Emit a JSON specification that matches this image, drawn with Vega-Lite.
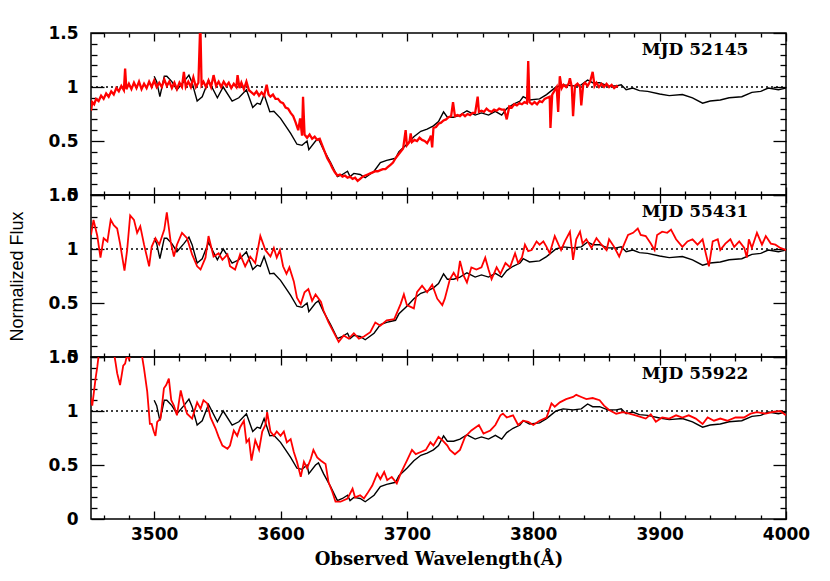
{
"$schema":"https://vega.github.io/schema/vega-lite/v6.json",
"background":"white",
"padding":{"left":8,"top":23,"right":5,"bottom":5},
"spacing":0,
"bounds":"flush",
"config":{"view":{"stroke":"black","strokeWidth":1.5},"axis":{"grid":false,"domain":false,"tickColor":"black","tickWidth":1.3,"labelFont":"DejaVu Sans","labelFontWeight":"bold","labelFontSize":17,"labelColor":"black","titleColor":"black"}},
"datasets":{
"template":[
{"w":3500,"f":1.10},{"w":3502,"f":1.05},{"w":3504.5,"f":0.91},{"w":3508,"f":1.10},{"w":3510,"f":1.10},{"w":3514,"f":1.05},{"w":3518,"f":0.975},{"w":3523.5,"f":1.05},{"w":3527.5,"f":1.11},{"w":3530,"f":1.04},{"w":3534,"f":0.87},{"w":3538,"f":0.91},{"w":3543,"f":1.06},{"w":3550,"f":0.90},{"w":3554.6,"f":1.0},{"w":3561.7,"f":0.87},{"w":3567,"f":0.90},{"w":3573,"f":0.975},{"w":3578,"f":0.81},{"w":3581.5,"f":0.85},{"w":3584,"f":0.84},{"w":3587,"f":0.93},{"w":3591.5,"f":0.77},{"w":3594.7,"f":0.775},{"w":3600,"f":0.71},{"w":3604,"f":0.64},{"w":3608,"f":0.57},{"w":3613,"f":0.47},{"w":3617,"f":0.46},{"w":3621,"f":0.50},{"w":3622.4,"f":0.42},{"w":3627.7,"f":0.50},{"w":3630,"f":0.52},{"w":3634,"f":0.42},{"w":3639.6,"f":0.30},{"w":3645,"f":0.17},{"w":3649,"f":0.19},{"w":3653,"f":0.22},{"w":3655,"f":0.17},{"w":3658,"f":0.20},{"w":3663,"f":0.19},{"w":3667,"f":0.16},{"w":3674,"f":0.22},{"w":3679,"f":0.30},{"w":3684,"f":0.32},{"w":3691,"f":0.34},{"w":3693.7,"f":0.40},{"w":3700,"f":0.47},{"w":3705.5,"f":0.54},{"w":3711,"f":0.59},{"w":3716,"f":0.61},{"w":3721,"f":0.64},{"w":3725,"f":0.68},{"w":3729,"f":0.77},{"w":3732,"f":0.72},{"w":3737,"f":0.72},{"w":3742,"f":0.74},{"w":3747.5,"f":0.78},{"w":3754,"f":0.74},{"w":3759,"f":0.76},{"w":3764.6,"f":0.74},{"w":3770,"f":0.775},{"w":3775,"f":0.74},{"w":3779,"f":0.80},{"w":3784,"f":0.84},{"w":3789.5,"f":0.87},{"w":3792,"f":0.91},{"w":3797,"f":0.88},{"w":3805,"f":0.89},{"w":3810.5,"f":0.93},{"w":3818,"f":1.0},{"w":3823.6,"f":1.02},{"w":3831.5,"f":1.01},{"w":3838,"f":1.02},{"w":3843,"f":1.065},{"w":3847,"f":1.04},{"w":3852.5,"f":1.04},{"w":3859,"f":1.01},{"w":3865.6,"f":1.01},{"w":3869.6,"f":1.02},{"w":3873.5,"f":0.975},{"w":3878.7,"f":0.99},{"w":3884,"f":0.966},{"w":3890.5,"f":0.96},{"w":3900,"f":0.935},{"w":3907.6,"f":0.92},{"w":3918,"f":0.93},{"w":3926,"f":0.90},{"w":3934,"f":0.85},{"w":3940,"f":0.87},{"w":3948,"f":0.88},{"w":3955,"f":0.90},{"w":3965,"f":0.91},{"w":3973,"f":0.95},{"w":3980,"f":0.96},{"w":3986,"f":0.99},{"w":3994,"f":0.975},{"w":4000,"f":0.99}
],
"obs":[
{"mjd":52145,"w":3450,"f":0.78},{"mjd":52145,"w":3451,"f":0.86},{"mjd":52145,"w":3452.5,"f":0.84},{"mjd":52145,"w":3454,"f":0.89},{"mjd":52145,"w":3456,"f":0.87},{"mjd":52145,"w":3458,"f":0.92},{"mjd":52145,"w":3460,"f":0.89},{"mjd":52145,"w":3462,"f":0.94},{"mjd":52145,"w":3464,"f":0.91},{"mjd":52145,"w":3466,"f":0.96},{"mjd":52145,"w":3468,"f":0.93},{"mjd":52145,"w":3470,"f":0.99},{"mjd":52145,"w":3472,"f":0.96},{"mjd":52145,"w":3474,"f":1.01},{"mjd":52145,"w":3476,"f":0.97},{"mjd":52145,"w":3477,"f":1.17},{"mjd":52145,"w":3478,"f":0.98},{"mjd":52145,"w":3480,"f":1.03},{"mjd":52145,"w":3482,"f":0.98},{"mjd":52145,"w":3484,"f":1.04},{"mjd":52145,"w":3486,"f":0.99},{"mjd":52145,"w":3488,"f":1.05},{"mjd":52145,"w":3490,"f":0.98},{"mjd":52145,"w":3492,"f":1.03},{"mjd":52145,"w":3494,"f":0.99},{"mjd":52145,"w":3496,"f":1.05},{"mjd":52145,"w":3498,"f":1.0},{"mjd":52145,"w":3500,"f":1.06},{"mjd":52145,"w":3502,"f":1.0},{"mjd":52145,"w":3504,"f":1.04},{"mjd":52145,"w":3506,"f":1.0},{"mjd":52145,"w":3508,"f":1.07},{"mjd":52145,"w":3510,"f":1.01},{"mjd":52145,"w":3512,"f":1.05},{"mjd":52145,"w":3514,"f":0.99},{"mjd":52145,"w":3516,"f":1.04},{"mjd":52145,"w":3518,"f":0.98},{"mjd":52145,"w":3520,"f":1.04},{"mjd":52145,"w":3522,"f":1.0},{"mjd":52145,"w":3523.5,"f":1.14},{"mjd":52145,"w":3525,"f":1.0},{"mjd":52145,"w":3527,"f":1.05},{"mjd":52145,"w":3529,"f":1.0},{"mjd":52145,"w":3531,"f":1.09},{"mjd":52145,"w":3533,"f":1.0},{"mjd":52145,"w":3535,"f":1.04},{"mjd":52145,"w":3536.5,"f":1.6},{"mjd":52145,"w":3537.5,"f":1.02},{"mjd":52145,"w":3539,"f":1.05},{"mjd":52145,"w":3541,"f":1.0},{"mjd":52145,"w":3543,"f":1.06},{"mjd":52145,"w":3545,"f":1.0},{"mjd":52145,"w":3547,"f":1.11},{"mjd":52145,"w":3549,"f":1.01},{"mjd":52145,"w":3551,"f":1.05},{"mjd":52145,"w":3553,"f":1.0},{"mjd":52145,"w":3555,"f":1.05},{"mjd":52145,"w":3557,"f":1.01},{"mjd":52145,"w":3559,"f":1.04},{"mjd":52145,"w":3561,"f":0.99},{"mjd":52145,"w":3563,"f":1.03},{"mjd":52145,"w":3565,"f":1.0},{"mjd":52145,"w":3566,"f":1.11},{"mjd":52145,"w":3567.5,"f":0.99},{"mjd":52145,"w":3569,"f":1.04},{"mjd":52145,"w":3571,"f":0.98},{"mjd":52145,"w":3573,"f":1.05},{"mjd":52145,"w":3575,"f":0.97},{"mjd":52145,"w":3577,"f":0.95},{"mjd":52145,"w":3579,"f":0.93},{"mjd":52145,"w":3581,"f":0.96},{"mjd":52145,"w":3583,"f":0.92},{"mjd":52145,"w":3585,"f":0.95},{"mjd":52145,"w":3587,"f":0.92},{"mjd":52145,"w":3589,"f":1.02},{"mjd":52145,"w":3590.5,"f":0.93},{"mjd":52145,"w":3592,"f":0.91},{"mjd":52145,"w":3594,"f":0.93},{"mjd":52145,"w":3596,"f":0.89},{"mjd":52145,"w":3598,"f":0.89},{"mjd":52145,"w":3600,"f":0.86},{"mjd":52145,"w":3602,"f":0.85},{"mjd":52145,"w":3604,"f":0.81},{"mjd":52145,"w":3606,"f":0.80},{"mjd":52145,"w":3608,"f":0.76},{"mjd":52145,"w":3610,"f":0.73},{"mjd":52145,"w":3612,"f":0.67},{"mjd":52145,"w":3614,"f":0.60},{"mjd":52145,"w":3615.5,"f":0.71},{"mjd":52145,"w":3617,"f":0.55},{"mjd":52145,"w":3617.8,"f":0.91},{"mjd":52145,"w":3619,"f":0.56},{"mjd":52145,"w":3621,"f":0.53},{"mjd":52145,"w":3623,"f":0.56},{"mjd":52145,"w":3625,"f":0.52},{"mjd":52145,"w":3627,"f":0.54},{"mjd":52145,"w":3629,"f":0.51},{"mjd":52145,"w":3631,"f":0.52},{"mjd":52145,"w":3633,"f":0.46},{"mjd":52145,"w":3635,"f":0.40},{"mjd":52145,"w":3637,"f":0.34},{"mjd":52145,"w":3639,"f":0.30},{"mjd":52145,"w":3641,"f":0.25},{"mjd":52145,"w":3643,"f":0.21},{"mjd":52145,"w":3645,"f":0.18},{"mjd":52145,"w":3647,"f":0.19},{"mjd":52145,"w":3649,"f":0.17},{"mjd":52145,"w":3651,"f":0.18},{"mjd":52145,"w":3653,"f":0.16},{"mjd":52145,"w":3655,"f":0.17},{"mjd":52145,"w":3657,"f":0.15},{"mjd":52145,"w":3659,"f":0.16},{"mjd":52145,"w":3661,"f":0.13},{"mjd":52145,"w":3663,"f":0.15},{"mjd":52145,"w":3665,"f":0.17},{"mjd":52145,"w":3667,"f":0.18},{"mjd":52145,"w":3669,"f":0.19},{"mjd":52145,"w":3671,"f":0.20},{"mjd":52145,"w":3673,"f":0.21},{"mjd":52145,"w":3675,"f":0.22},{"mjd":52145,"w":3677,"f":0.22},{"mjd":52145,"w":3679,"f":0.23},{"mjd":52145,"w":3681,"f":0.24},{"mjd":52145,"w":3683,"f":0.24},{"mjd":52145,"w":3685,"f":0.26},{"mjd":52145,"w":3687,"f":0.28},{"mjd":52145,"w":3689,"f":0.30},{"mjd":52145,"w":3691,"f":0.34},{"mjd":52145,"w":3693,"f":0.37},{"mjd":52145,"w":3695,"f":0.40},{"mjd":52145,"w":3697,"f":0.43},{"mjd":52145,"w":3699,"f":0.60},{"mjd":52145,"w":3700,"f":0.46},{"mjd":52145,"w":3702,"f":0.49},{"mjd":52145,"w":3703,"f":0.57},{"mjd":52145,"w":3704,"f":0.49},{"mjd":52145,"w":3706,"f":0.51},{"mjd":52145,"w":3708,"f":0.50},{"mjd":52145,"w":3710,"f":0.53},{"mjd":52145,"w":3712,"f":0.51},{"mjd":52145,"w":3714,"f":0.50},{"mjd":52145,"w":3716,"f":0.48},{"mjd":52145,"w":3718,"f":0.52},{"mjd":52145,"w":3719,"f":0.55},{"mjd":52145,"w":3720,"f":0.44},{"mjd":52145,"w":3721,"f":0.62},{"mjd":52145,"w":3723,"f":0.63},{"mjd":52145,"w":3725,"f":0.66},{"mjd":52145,"w":3727,"f":0.67},{"mjd":52145,"w":3729,"f":0.69},{"mjd":52145,"w":3731,"f":0.70},{"mjd":52145,"w":3733,"f":0.72},{"mjd":52145,"w":3735,"f":0.73},{"mjd":52145,"w":3736.5,"f":0.86},{"mjd":52145,"w":3738,"f":0.73},{"mjd":52145,"w":3740,"f":0.74},{"mjd":52145,"w":3742,"f":0.73},{"mjd":52145,"w":3744,"f":0.75},{"mjd":52145,"w":3746,"f":0.73},{"mjd":52145,"w":3748,"f":0.75},{"mjd":52145,"w":3750,"f":0.74},{"mjd":52145,"w":3752,"f":0.76},{"mjd":52145,"w":3754,"f":0.76},{"mjd":52145,"w":3756,"f":0.91},{"mjd":52145,"w":3757,"f":0.77},{"mjd":52145,"w":3759,"f":0.78},{"mjd":52145,"w":3761,"f":0.77},{"mjd":52145,"w":3763,"f":0.80},{"mjd":52145,"w":3765,"f":0.78},{"mjd":52145,"w":3767,"f":0.77},{"mjd":52145,"w":3769,"f":0.79},{"mjd":52145,"w":3771,"f":0.78},{"mjd":52145,"w":3773,"f":0.80},{"mjd":52145,"w":3775,"f":0.79},{"mjd":52145,"w":3777,"f":0.79},{"mjd":52145,"w":3779,"f":0.70},{"mjd":52145,"w":3781,"f":0.82},{"mjd":52145,"w":3783,"f":0.81},{"mjd":52145,"w":3785,"f":0.84},{"mjd":52145,"w":3787,"f":0.83},{"mjd":52145,"w":3789,"f":0.85},{"mjd":52145,"w":3791,"f":0.84},{"mjd":52145,"w":3793,"f":0.86},{"mjd":52145,"w":3795,"f":0.85},{"mjd":52145,"w":3796,"f":1.24},{"mjd":52145,"w":3797,"f":0.86},{"mjd":52145,"w":3799,"f":0.84},{"mjd":52145,"w":3801,"f":0.86},{"mjd":52145,"w":3803,"f":0.84},{"mjd":52145,"w":3805,"f":0.87},{"mjd":52145,"w":3807,"f":0.86},{"mjd":52145,"w":3809,"f":0.89},{"mjd":52145,"w":3811,"f":0.90},{"mjd":52145,"w":3813,"f":0.91},{"mjd":52145,"w":3813.6,"f":0.62},{"mjd":52145,"w":3815,"f":0.93},{"mjd":52145,"w":3817,"f":0.97},{"mjd":52145,"w":3818.5,"f":1.0},{"mjd":52145,"w":3819.7,"f":0.77},{"mjd":52145,"w":3821,"f":1.10},{"mjd":52145,"w":3822.5,"f":0.99},{"mjd":52145,"w":3824,"f":1.02},{"mjd":52145,"w":3826,"f":1.0},{"mjd":52145,"w":3828,"f":1.03},{"mjd":52145,"w":3829,"f":1.08},{"mjd":52145,"w":3830.5,"f":1.0},{"mjd":52145,"w":3831.5,"f":0.73},{"mjd":52145,"w":3833,"f":1.01},{"mjd":52145,"w":3835,"f":1.03},{"mjd":52145,"w":3837,"f":1.0},{"mjd":52145,"w":3838,"f":0.83},{"mjd":52145,"w":3839.5,"f":1.02},{"mjd":52145,"w":3841,"f":1.04},{"mjd":52145,"w":3843,"f":1.01},{"mjd":52145,"w":3845,"f":1.05},{"mjd":52145,"w":3847,"f":1.14},{"mjd":52145,"w":3848.5,"f":1.01},{"mjd":52145,"w":3850,"f":1.04},{"mjd":52145,"w":3852,"f":1.0},{"mjd":52145,"w":3854,"f":1.03},{"mjd":52145,"w":3856,"f":1.0},{"mjd":52145,"w":3858,"f":1.03},{"mjd":52145,"w":3860,"f":1.0},{"mjd":52145,"w":3862,"f":1.02},{"mjd":52145,"w":3864,"f":0.99},{"mjd":52145,"w":3866,"f":1.01},{"mjd":52145,"w":3867,"f":1.0},
{"mjd":55431,"w":3450,"f":1.13},{"mjd":55431,"w":3452,"f":1.27},{"mjd":55431,"w":3455,"f":1.12},{"mjd":55431,"w":3457.5,"f":0.92},{"mjd":55431,"w":3460,"f":1.10},{"mjd":55431,"w":3463,"f":1.07},{"mjd":55431,"w":3465.6,"f":1.27},{"mjd":55431,"w":3468,"f":1.22},{"mjd":55431,"w":3470.7,"f":1.19},{"mjd":55431,"w":3473,"f":1.05},{"mjd":55431,"w":3476.5,"f":0.80},{"mjd":55431,"w":3478.6,"f":0.99},{"mjd":55431,"w":3481,"f":1.31},{"mjd":55431,"w":3484,"f":1.27},{"mjd":55431,"w":3486.5,"f":1.15},{"mjd":55431,"w":3489,"f":1.21},{"mjd":55431,"w":3492,"f":1.04},{"mjd":55431,"w":3496,"f":0.84},{"mjd":55431,"w":3498,"f":1.02},{"mjd":55431,"w":3501,"f":1.10},{"mjd":55431,"w":3504,"f":1.04},{"mjd":55431,"w":3508,"f":1.18},{"mjd":55431,"w":3510,"f":1.34},{"mjd":55431,"w":3513,"f":1.07},{"mjd":55431,"w":3515.6,"f":0.93},{"mjd":55431,"w":3518,"f":1.04},{"mjd":55431,"w":3522,"f":1.15},{"mjd":55431,"w":3526,"f":1.10},{"mjd":55431,"w":3530,"f":0.95},{"mjd":55431,"w":3534,"f":0.84},{"mjd":55431,"w":3536.7,"f":0.81},{"mjd":55431,"w":3540.6,"f":0.92},{"mjd":55431,"w":3543,"f":1.12},{"mjd":55431,"w":3547,"f":0.93},{"mjd":55431,"w":3551,"f":0.96},{"mjd":55431,"w":3554,"f":0.90},{"mjd":55431,"w":3558,"f":0.95},{"mjd":55431,"w":3560,"f":0.84},{"mjd":55431,"w":3564,"f":0.81},{"mjd":55431,"w":3568,"f":0.95},{"mjd":55431,"w":3572,"f":0.84},{"mjd":55431,"w":3576,"f":0.93},{"mjd":55431,"w":3580,"f":0.87},{"mjd":55431,"w":3584,"f":1.12},{"mjd":55431,"w":3588,"f":0.99},{"mjd":55431,"w":3592,"f":0.93},{"mjd":55431,"w":3594.7,"f":1.01},{"mjd":55431,"w":3597,"f":0.92},{"mjd":55431,"w":3599.5,"f":0.99},{"mjd":55431,"w":3602,"f":0.84},{"mjd":55431,"w":3604.7,"f":0.77},{"mjd":55431,"w":3607,"f":0.83},{"mjd":55431,"w":3610.5,"f":0.70},{"mjd":55431,"w":3613,"f":0.55},{"mjd":55431,"w":3616,"f":0.49},{"mjd":55431,"w":3619,"f":0.60},{"mjd":55431,"w":3622,"f":0.63},{"mjd":55431,"w":3625,"f":0.52},{"mjd":55431,"w":3627.7,"f":0.58},{"mjd":55431,"w":3632,"f":0.51},{"mjd":55431,"w":3634,"f":0.43},{"mjd":55431,"w":3638,"f":0.32},{"mjd":55431,"w":3642,"f":0.23},{"mjd":55431,"w":3646,"f":0.14},{"mjd":55431,"w":3650,"f":0.20},{"mjd":55431,"w":3654,"f":0.17},{"mjd":55431,"w":3658,"f":0.22},{"mjd":55431,"w":3662,"f":0.17},{"mjd":55431,"w":3666,"f":0.19},{"mjd":55431,"w":3671,"f":0.23},{"mjd":55431,"w":3675,"f":0.32},{"mjd":55431,"w":3679,"f":0.29},{"mjd":55431,"w":3684,"f":0.34},{"mjd":55431,"w":3690,"f":0.35},{"mjd":55431,"w":3695,"f":0.49},{"mjd":55431,"w":3697.6,"f":0.58},{"mjd":55431,"w":3700,"f":0.48},{"mjd":55431,"w":3705.5,"f":0.45},{"mjd":55431,"w":3708,"f":0.60},{"mjd":55431,"w":3712,"f":0.66},{"mjd":55431,"w":3716,"f":0.60},{"mjd":55431,"w":3720,"f":0.67},{"mjd":55431,"w":3724,"f":0.54},{"mjd":55431,"w":3728,"f":0.48},{"mjd":55431,"w":3730,"f":0.54},{"mjd":55431,"w":3734,"f":0.72},{"mjd":55431,"w":3737,"f":0.78},{"mjd":55431,"w":3740,"f":0.72},{"mjd":55431,"w":3742,"f":0.89},{"mjd":55431,"w":3745,"f":0.75},{"mjd":55431,"w":3747.5,"f":0.69},{"mjd":55431,"w":3751,"f":0.83},{"mjd":55431,"w":3755,"f":0.81},{"mjd":55431,"w":3759,"f":0.83},{"mjd":55431,"w":3762,"f":0.92},{"mjd":55431,"w":3764.6,"f":0.81},{"mjd":55431,"w":3767,"f":0.72},{"mjd":55431,"w":3771,"f":0.83},{"mjd":55431,"w":3774,"f":0.77},{"mjd":55431,"w":3778,"f":0.87},{"mjd":55431,"w":3781.6,"f":0.83},{"mjd":55431,"w":3785.6,"f":0.96},{"mjd":55431,"w":3788,"f":0.87},{"mjd":55431,"w":3791,"f":0.92},{"mjd":55431,"w":3793.4,"f":1.04},{"mjd":55431,"w":3796,"f":0.98},{"mjd":55431,"w":3798.7,"f":0.99},{"mjd":55431,"w":3802.6,"f":1.07},{"mjd":55431,"w":3805,"f":1.04},{"mjd":55431,"w":3808,"f":1.07},{"mjd":55431,"w":3810.5,"f":1.02},{"mjd":55431,"w":3813,"f":0.96},{"mjd":55431,"w":3817,"f":1.12},{"mjd":55431,"w":3820,"f":1.04},{"mjd":55431,"w":3822,"f":0.99},{"mjd":55431,"w":3825,"f":1.07},{"mjd":55431,"w":3829,"f":1.16},{"mjd":55431,"w":3831.5,"f":0.90},{"mjd":55431,"w":3834,"f":1.09},{"mjd":55431,"w":3837,"f":1.16},{"mjd":55431,"w":3839,"f":1.05},{"mjd":55431,"w":3842,"f":1.09},{"mjd":55431,"w":3846,"f":1.01},{"mjd":55431,"w":3850,"f":1.10},{"mjd":55431,"w":3854,"f":1.04},{"mjd":55431,"w":3858,"f":0.99},{"mjd":55431,"w":3860,"f":1.09},{"mjd":55431,"w":3864,"f":1.02},{"mjd":55431,"w":3868,"f":0.93},{"mjd":55431,"w":3871,"f":1.02},{"mjd":55431,"w":3875,"f":1.13},{"mjd":55431,"w":3879,"f":1.15},{"mjd":55431,"w":3882.7,"f":1.19},{"mjd":55431,"w":3885,"f":1.13},{"mjd":55431,"w":3889,"f":1.12},{"mjd":55431,"w":3893,"f":1.05},{"mjd":55431,"w":3896,"f":0.99},{"mjd":55431,"w":3898,"f":1.13},{"mjd":55431,"w":3902,"f":1.16},{"mjd":55431,"w":3906,"f":1.15},{"mjd":55431,"w":3909,"f":1.18},{"mjd":55431,"w":3913,"f":1.09},{"mjd":55431,"w":3918,"f":1.02},{"mjd":55431,"w":3922,"f":1.07},{"mjd":55431,"w":3926,"f":1.09},{"mjd":55431,"w":3930,"f":1.04},{"mjd":55431,"w":3934,"f":1.09},{"mjd":55431,"w":3936.5,"f":0.96},{"mjd":55431,"w":3939,"f":0.84},{"mjd":55431,"w":3942,"f":1.07},{"mjd":55431,"w":3946,"f":1.09},{"mjd":55431,"w":3948,"f":0.99},{"mjd":55431,"w":3952,"f":1.05},{"mjd":55431,"w":3956,"f":1.09},{"mjd":55431,"w":3959,"f":1.02},{"mjd":55431,"w":3963,"f":1.07},{"mjd":55431,"w":3967,"f":1.01},{"mjd":55431,"w":3969,"f":0.92},{"mjd":55431,"w":3970.6,"f":1.09},{"mjd":55431,"w":3973,"f":1.01},{"mjd":55431,"w":3977,"f":1.15},{"mjd":55431,"w":3981,"f":1.04},{"mjd":55431,"w":3984,"f":1.12},{"mjd":55431,"w":3988,"f":1.05},{"mjd":55431,"w":3991.6,"f":1.04},{"mjd":55431,"w":3995.5,"f":1.01},{"mjd":55431,"w":4000,"f":0.99},
{"mjd":55922,"w":3449.6,"f":1.13},{"mjd":55922,"w":3451,"f":1.05},{"mjd":55922,"w":3453.6,"f":1.30},{"mjd":55922,"w":3455,"f":1.41},{"mjd":55922,"w":3456,"f":1.51},{"mjd":55922,"w":3458,"f":1.65},{"mjd":55922,"w":3462,"f":1.7},{"mjd":55922,"w":3466,"f":1.62},{"mjd":55922,"w":3468,"f":1.55},{"mjd":55922,"w":3469.4,"f":1.45},{"mjd":55922,"w":3470.7,"f":1.35},{"mjd":55922,"w":3473,"f":1.24},{"mjd":55922,"w":3475.5,"f":1.42},{"mjd":55922,"w":3477,"f":1.44},{"mjd":55922,"w":3478.6,"f":1.52},{"mjd":55922,"w":3480,"f":1.48},{"mjd":55922,"w":3481,"f":1.51},{"mjd":55922,"w":3484,"f":1.62},{"mjd":55922,"w":3487,"f":1.65},{"mjd":55922,"w":3490.5,"f":1.5},{"mjd":55922,"w":3492,"f":1.39},{"mjd":55922,"w":3494.5,"f":1.18},{"mjd":55922,"w":3496.6,"f":0.88},{"mjd":55922,"w":3498,"f":0.88},{"mjd":55922,"w":3499.7,"f":0.81},{"mjd":55922,"w":3501,"f":0.77},{"mjd":55922,"w":3502.4,"f":0.90},{"mjd":55922,"w":3505,"f":0.93},{"mjd":55922,"w":3507.7,"f":1.21},{"mjd":55922,"w":3509.5,"f":1.24},{"mjd":55922,"w":3511.6,"f":1.30},{"mjd":55922,"w":3513.5,"f":1.10},{"mjd":55922,"w":3515.6,"f":1.05},{"mjd":55922,"w":3518,"f":0.96},{"mjd":55922,"w":3521,"f":1.19},{"mjd":55922,"w":3523.5,"f":1.07},{"mjd":55922,"w":3526,"f":0.975},{"mjd":55922,"w":3530,"f":0.93},{"mjd":55922,"w":3534,"f":1.08},{"mjd":55922,"w":3536.7,"f":1.02},{"mjd":55922,"w":3539,"f":1.10},{"mjd":55922,"w":3542,"f":1.07},{"mjd":55922,"w":3544.6,"f":0.94},{"mjd":55922,"w":3548.5,"f":0.84},{"mjd":55922,"w":3551,"f":0.76},{"mjd":55922,"w":3554,"f":0.68},{"mjd":55922,"w":3558,"f":0.65},{"mjd":55922,"w":3560,"f":0.68},{"mjd":55922,"w":3563,"f":0.82},{"mjd":55922,"w":3565.7,"f":0.77},{"mjd":55922,"w":3568,"f":0.85},{"mjd":55922,"w":3571,"f":0.91},{"mjd":55922,"w":3573,"f":0.71},{"mjd":55922,"w":3575,"f":0.74},{"mjd":55922,"w":3577,"f":0.54},{"mjd":55922,"w":3580,"f":0.73},{"mjd":55922,"w":3583,"f":0.64},{"mjd":55922,"w":3585.5,"f":0.81},{"mjd":55922,"w":3588,"f":0.87},{"mjd":55922,"w":3589.4,"f":0.99},{"mjd":55922,"w":3592,"f":0.81},{"mjd":55922,"w":3594.7,"f":0.77},{"mjd":55922,"w":3597,"f":0.81},{"mjd":55922,"w":3600,"f":0.77},{"mjd":55922,"w":3602.6,"f":0.81},{"mjd":55922,"w":3605,"f":0.71},{"mjd":55922,"w":3608,"f":0.74},{"mjd":55922,"w":3610.5,"f":0.62},{"mjd":55922,"w":3613,"f":0.53},{"mjd":55922,"w":3616,"f":0.39},{"mjd":55922,"w":3618.5,"f":0.53},{"mjd":55922,"w":3621,"f":0.47},{"mjd":55922,"w":3624,"f":0.56},{"mjd":55922,"w":3626,"f":0.64},{"mjd":55922,"w":3629,"f":0.57},{"mjd":55922,"w":3632,"f":0.54},{"mjd":55922,"w":3635.6,"f":0.51},{"mjd":55922,"w":3638,"f":0.34},{"mjd":55922,"w":3641,"f":0.25},{"mjd":55922,"w":3643.5,"f":0.16},{"mjd":55922,"w":3647.5,"f":0.16},{"mjd":55922,"w":3653,"f":0.19},{"mjd":55922,"w":3657,"f":0.28},{"mjd":55922,"w":3659,"f":0.20},{"mjd":55922,"w":3663,"f":0.22},{"mjd":55922,"w":3666,"f":0.19},{"mjd":55922,"w":3668.6,"f":0.235},{"mjd":55922,"w":3672.6,"f":0.31},{"mjd":55922,"w":3676.5,"f":0.42},{"mjd":55922,"w":3679,"f":0.37},{"mjd":55922,"w":3682,"f":0.435},{"mjd":55922,"w":3684.4,"f":0.36},{"mjd":55922,"w":3688,"f":0.39},{"mjd":55922,"w":3692,"f":0.33},{"mjd":55922,"w":3695,"f":0.42},{"mjd":55922,"w":3700,"f":0.54},{"mjd":55922,"w":3704,"f":0.64},{"mjd":55922,"w":3707,"f":0.60},{"mjd":55922,"w":3711,"f":0.62},{"mjd":55922,"w":3715,"f":0.64},{"mjd":55922,"w":3718.6,"f":0.71},{"mjd":55922,"w":3721,"f":0.68},{"mjd":55922,"w":3725,"f":0.76},{"mjd":55922,"w":3728,"f":0.73},{"mjd":55922,"w":3732,"f":0.68},{"mjd":55922,"w":3734,"f":0.64},{"mjd":55922,"w":3738,"f":0.60},{"mjd":55922,"w":3742,"f":0.64},{"mjd":55922,"w":3746,"f":0.76},{"mjd":55922,"w":3751,"f":0.82},{"mjd":55922,"w":3757,"f":0.87},{"mjd":55922,"w":3760.6,"f":0.79},{"mjd":55922,"w":3766,"f":0.82},{"mjd":55922,"w":3770,"f":0.87},{"mjd":55922,"w":3774,"f":0.96},{"mjd":55922,"w":3776,"f":0.975},{"mjd":55922,"w":3779,"f":0.94},{"mjd":55922,"w":3784,"f":0.96},{"mjd":55922,"w":3788,"f":0.87},{"mjd":55922,"w":3792,"f":0.91},{"mjd":55922,"w":3796,"f":0.90},{"mjd":55922,"w":3800,"f":0.87},{"mjd":55922,"w":3805,"f":0.91},{"mjd":55922,"w":3810.5,"f":0.94},{"mjd":55922,"w":3814.4,"f":1.07},{"mjd":55922,"w":3817,"f":1.04},{"mjd":55922,"w":3821,"f":1.08},{"mjd":55922,"w":3826,"f":1.11},{"mjd":55922,"w":3831.5,"f":1.13},{"mjd":55922,"w":3834,"f":1.15},{"mjd":55922,"w":3838,"f":1.13},{"mjd":55922,"w":3842,"f":1.11},{"mjd":55922,"w":3847,"f":1.12},{"mjd":55922,"w":3852.5,"f":1.10},{"mjd":55922,"w":3856,"f":1.05},{"mjd":55922,"w":3860,"f":1.01},{"mjd":55922,"w":3865.6,"f":0.975},{"mjd":55922,"w":3871,"f":0.99},{"mjd":55922,"w":3876,"f":0.975},{"mjd":55922,"w":3881,"f":0.96},{"mjd":55922,"w":3889,"f":0.93},{"mjd":55922,"w":3893,"f":0.97},{"mjd":55922,"w":3897,"f":0.90},{"mjd":55922,"w":3902,"f":0.94},{"mjd":55922,"w":3907.6,"f":0.93},{"mjd":55922,"w":3913,"f":0.96},{"mjd":55922,"w":3918,"f":0.94},{"mjd":55922,"w":3923,"f":0.96},{"mjd":55922,"w":3928.6,"f":0.93},{"mjd":55922,"w":3934,"f":0.88},{"mjd":55922,"w":3938,"f":0.94},{"mjd":55922,"w":3943,"f":0.91},{"mjd":55922,"w":3948,"f":0.93},{"mjd":55922,"w":3953.5,"f":0.91},{"mjd":55922,"w":3960,"f":0.94},{"mjd":55922,"w":3966.7,"f":0.94},{"mjd":55922,"w":3972,"f":0.975},{"mjd":55922,"w":3977,"f":0.99},{"mjd":55922,"w":3984,"f":0.975},{"mjd":55922,"w":3989,"f":0.99},{"mjd":55922,"w":3995.5,"f":1.0},{"mjd":55922,"w":4000,"f":0.96}
],
"labels":[{"mjd":52145,"w":3928,"f":1.34,"label":"MJD 52145"},{"mjd":55431,"w":3928,"f":1.34,"label":"MJD 55431"},{"mjd":55922,"w":3928,"f":1.34,"label":"MJD 55922"}],
"ref":[{"w0":3450,"w1":4000,"f":1}]
},
"vconcat":[
{"width":695,"height":162,
"layer":[
{"data":{"name":"ref"},"mark":{"type":"rule","color":"black","strokeWidth":1.3,"strokeDash":[2,3]},
"encoding":{"x":{"field":"w0","type":"quantitative","scale":{"domain":[3450,4000],"nice":false},"axis":{"orient":"top","offset":-162,"values":[3460,3480,3520,3540,3560,3580,3620,3640,3660,3680,3720,3740,3760,3780,3820,3840,3860,3880,3920,3940,3960,3980],"tickSize":4,"labels":false,"title":null}},"x2":{"field":"w1"},
"y":{"field":"f","type":"quantitative","scale":{"domain":[0,1.5],"nice":false},"axis":{"orient":"right","offset":-695,"values":[0.1,0.2,0.3,0.4,0.6,0.7,0.8,0.9,1.1,1.2,1.3,1.4],"tickSize":6,"labels":false,"title":null}}}},
{"data":{"name":"template"},"mark":{"type":"line","color":"black","strokeWidth":1.4,"clip":true},
"encoding":{"x":{"field":"w","type":"quantitative","scale":{"domain":[3450,4000],"nice":false},"axis":{"orient":"bottom","ticks":false,"labels":false,"title":null}},
"y":{"field":"f","type":"quantitative","scale":{"domain":[0,1.5],"nice":false},"axis":{"orient":"left","values":[0,0.5,1,1.5],"ticks":false,"labelPadding":13,"format":"~g","title":null}}}},
{"data":{"name":"obs"},"transform":[{"filter":"datum.mjd == 52145"}],"mark":{"type":"line","color":"#ff0000","strokeWidth":2.3,"clip":true},
"encoding":{"x":{"field":"w","type":"quantitative","scale":{"domain":[3450,4000],"nice":false},"axis":{"orient":"top","offset":-162,"values":[3500,3600,3700,3800,3900,4000],"tickSize":8,"labels":false,"title":null}},
"y":{"field":"f","type":"quantitative","scale":{"domain":[0,1.5],"nice":false},"axis":{"orient":"right","offset":-695,"values":[0,0.5,1,1.5],"tickSize":13,"labels":false,"title":null}}}},
{"data":{"name":"labels"},"transform":[{"filter":"datum.mjd == 52145"}],"mark":{"type":"text","font":"DejaVu Serif","fontWeight":"bold","fontSize":17,"color":"black","align":"center","baseline":"middle"},
"encoding":{"x":{"field":"w","type":"quantitative","scale":{"domain":[3450,4000],"nice":false},"axis":{"orient":"bottom","offset":-162,"values":[3500,3600,3700,3800,3900,4000],"tickSize":8,"labels":false,"title":null}},
"y":{"field":"f","type":"quantitative","scale":{"domain":[0,1.5],"nice":false},"axis":{"orient":"left","offset":-695,"values":[0,0.5,1,1.5],"tickSize":13,"labels":false,"title":null}},"text":{"field":"label"}}},
{"data":{"name":"ref"},"mark":{"type":"rule","opacity":0},
"encoding":{"x":{"field":"w0","type":"quantitative","scale":{"domain":[3450,4000],"nice":false},"axis":{"orient":"bottom","offset":-162,"values":[3460,3480,3520,3540,3560,3580,3620,3640,3660,3680,3720,3740,3760,3780,3820,3840,3860,3880,3920,3940,3960,3980],"tickSize":4,"labels":false,"title":null}},"x2":{"field":"w1"},
"y":{"field":"f","type":"quantitative","scale":{"domain":[0,1.5],"nice":false},"axis":{"orient":"left","offset":-695,"values":[0.1,0.2,0.3,0.4,0.6,0.7,0.8,0.9,1.1,1.2,1.3,1.4],"tickSize":6,"labels":false,"title":null}}}}
],
"resolve":{"axis":{"x":"independent","y":"independent"}}},
{"width":695,"height":162,
"layer":[
{"data":{"name":"ref"},"mark":{"type":"rule","color":"black","strokeWidth":1.3,"strokeDash":[2,3]},
"encoding":{"x":{"field":"w0","type":"quantitative","scale":{"domain":[3450,4000],"nice":false},"axis":{"orient":"top","offset":-162,"values":[3460,3480,3520,3540,3560,3580,3620,3640,3660,3680,3720,3740,3760,3780,3820,3840,3860,3880,3920,3940,3960,3980],"tickSize":4,"labels":false,"title":null}},"x2":{"field":"w1"},
"y":{"field":"f","type":"quantitative","scale":{"domain":[0,1.5],"nice":false},"axis":{"orient":"right","offset":-695,"values":[0.1,0.2,0.3,0.4,0.6,0.7,0.8,0.9,1.1,1.2,1.3,1.4],"tickSize":6,"labels":false,"title":null}}}},
{"data":{"name":"template"},"mark":{"type":"line","color":"black","strokeWidth":1.4,"clip":true},
"encoding":{"x":{"field":"w","type":"quantitative","scale":{"domain":[3450,4000],"nice":false},"axis":{"orient":"bottom","ticks":false,"labels":false,"title":null}},
"y":{"field":"f","type":"quantitative","scale":{"domain":[0,1.5],"nice":false},"axis":{"orient":"left","values":[0,0.5,1,1.5],"ticks":false,"labelPadding":13,"format":"~g","title":"Normalized Flux","titleFont":"Liberation Sans","titleFontSize":18,"titleFontWeight":"normal","titlePadding":21}}}},
{"data":{"name":"obs"},"transform":[{"filter":"datum.mjd == 55431"}],"mark":{"type":"line","color":"#ff0000","strokeWidth":1.8,"clip":true},
"encoding":{"x":{"field":"w","type":"quantitative","scale":{"domain":[3450,4000],"nice":false},"axis":{"orient":"top","offset":-162,"values":[3500,3600,3700,3800,3900,4000],"tickSize":8,"labels":false,"title":null}},
"y":{"field":"f","type":"quantitative","scale":{"domain":[0,1.5],"nice":false},"axis":{"orient":"right","offset":-695,"values":[0,0.5,1,1.5],"tickSize":13,"labels":false,"title":null}}}},
{"data":{"name":"labels"},"transform":[{"filter":"datum.mjd == 55431"}],"mark":{"type":"text","font":"DejaVu Serif","fontWeight":"bold","fontSize":17,"color":"black","align":"center","baseline":"middle"},
"encoding":{"x":{"field":"w","type":"quantitative","scale":{"domain":[3450,4000],"nice":false},"axis":{"orient":"bottom","offset":-162,"values":[3500,3600,3700,3800,3900,4000],"tickSize":8,"labels":false,"title":null}},
"y":{"field":"f","type":"quantitative","scale":{"domain":[0,1.5],"nice":false},"axis":{"orient":"left","offset":-695,"values":[0,0.5,1,1.5],"tickSize":13,"labels":false,"title":null}},"text":{"field":"label"}}},
{"data":{"name":"ref"},"mark":{"type":"rule","opacity":0},
"encoding":{"x":{"field":"w0","type":"quantitative","scale":{"domain":[3450,4000],"nice":false},"axis":{"orient":"bottom","offset":-162,"values":[3460,3480,3520,3540,3560,3580,3620,3640,3660,3680,3720,3740,3760,3780,3820,3840,3860,3880,3920,3940,3960,3980],"tickSize":4,"labels":false,"title":null}},"x2":{"field":"w1"},
"y":{"field":"f","type":"quantitative","scale":{"domain":[0,1.5],"nice":false},"axis":{"orient":"left","offset":-695,"values":[0.1,0.2,0.3,0.4,0.6,0.7,0.8,0.9,1.1,1.2,1.3,1.4],"tickSize":6,"labels":false,"title":null}}}}
],
"resolve":{"axis":{"x":"independent","y":"independent"}}},
{"width":695,"height":162,
"layer":[
{"data":{"name":"ref"},"mark":{"type":"rule","color":"black","strokeWidth":1.3,"strokeDash":[2,3]},
"encoding":{"x":{"field":"w0","type":"quantitative","scale":{"domain":[3450,4000],"nice":false},"axis":{"orient":"top","offset":-162,"values":[3460,3480,3520,3540,3560,3580,3620,3640,3660,3680,3720,3740,3760,3780,3820,3840,3860,3880,3920,3940,3960,3980],"tickSize":4,"labels":false,"title":null}},"x2":{"field":"w1"},
"y":{"field":"f","type":"quantitative","scale":{"domain":[0,1.5],"nice":false},"axis":{"orient":"right","offset":-695,"values":[0.1,0.2,0.3,0.4,0.6,0.7,0.8,0.9,1.1,1.2,1.3,1.4],"tickSize":6,"labels":false,"title":null}}}},
{"data":{"name":"template"},"mark":{"type":"line","color":"black","strokeWidth":1.4,"clip":true},
"encoding":{"x":{"field":"w","type":"quantitative","scale":{"domain":[3450,4000],"nice":false},"axis":{"orient":"bottom","values":[3500,3600,3700,3800,3900,4000],"ticks":false,"labelPadding":7,"labelFlush":false,"format":"d","title":"Observed Wavelength(Å)","titleFont":"DejaVu Serif","titleFontWeight":"bold","titleFontSize":18,"titlePadding":8}},
"y":{"field":"f","type":"quantitative","scale":{"domain":[0,1.5],"nice":false},"axis":{"orient":"left","values":[0,0.5,1,1.5],"ticks":false,"labelPadding":13,"format":"~g","title":null}}}},
{"data":{"name":"obs"},"transform":[{"filter":"datum.mjd == 55922"}],"mark":{"type":"line","color":"#ff0000","strokeWidth":1.8,"clip":true},
"encoding":{"x":{"field":"w","type":"quantitative","scale":{"domain":[3450,4000],"nice":false},"axis":{"orient":"top","offset":-162,"values":[3500,3600,3700,3800,3900,4000],"tickSize":8,"labels":false,"title":null}},
"y":{"field":"f","type":"quantitative","scale":{"domain":[0,1.5],"nice":false},"axis":{"orient":"right","offset":-695,"values":[0,0.5,1,1.5],"tickSize":13,"labels":false,"title":null}}}},
{"data":{"name":"labels"},"transform":[{"filter":"datum.mjd == 55922"}],"mark":{"type":"text","font":"DejaVu Serif","fontWeight":"bold","fontSize":17,"color":"black","align":"center","baseline":"middle"},
"encoding":{"x":{"field":"w","type":"quantitative","scale":{"domain":[3450,4000],"nice":false},"axis":{"orient":"bottom","offset":-162,"values":[3500,3600,3700,3800,3900,4000],"tickSize":8,"labels":false,"title":null}},
"y":{"field":"f","type":"quantitative","scale":{"domain":[0,1.5],"nice":false},"axis":{"orient":"left","offset":-695,"values":[0,0.5,1,1.5],"tickSize":13,"labels":false,"title":null}},"text":{"field":"label"}}},
{"data":{"name":"ref"},"mark":{"type":"rule","opacity":0},
"encoding":{"x":{"field":"w0","type":"quantitative","scale":{"domain":[3450,4000],"nice":false},"axis":{"orient":"bottom","offset":-162,"values":[3460,3480,3520,3540,3560,3580,3620,3640,3660,3680,3720,3740,3760,3780,3820,3840,3860,3880,3920,3940,3960,3980],"tickSize":4,"labels":false,"title":null}},"x2":{"field":"w1"},
"y":{"field":"f","type":"quantitative","scale":{"domain":[0,1.5],"nice":false},"axis":{"orient":"left","offset":-695,"values":[0.1,0.2,0.3,0.4,0.6,0.7,0.8,0.9,1.1,1.2,1.3,1.4],"tickSize":6,"labels":false,"title":null}}}}
],
"resolve":{"axis":{"x":"independent","y":"independent"}}}
]
}
